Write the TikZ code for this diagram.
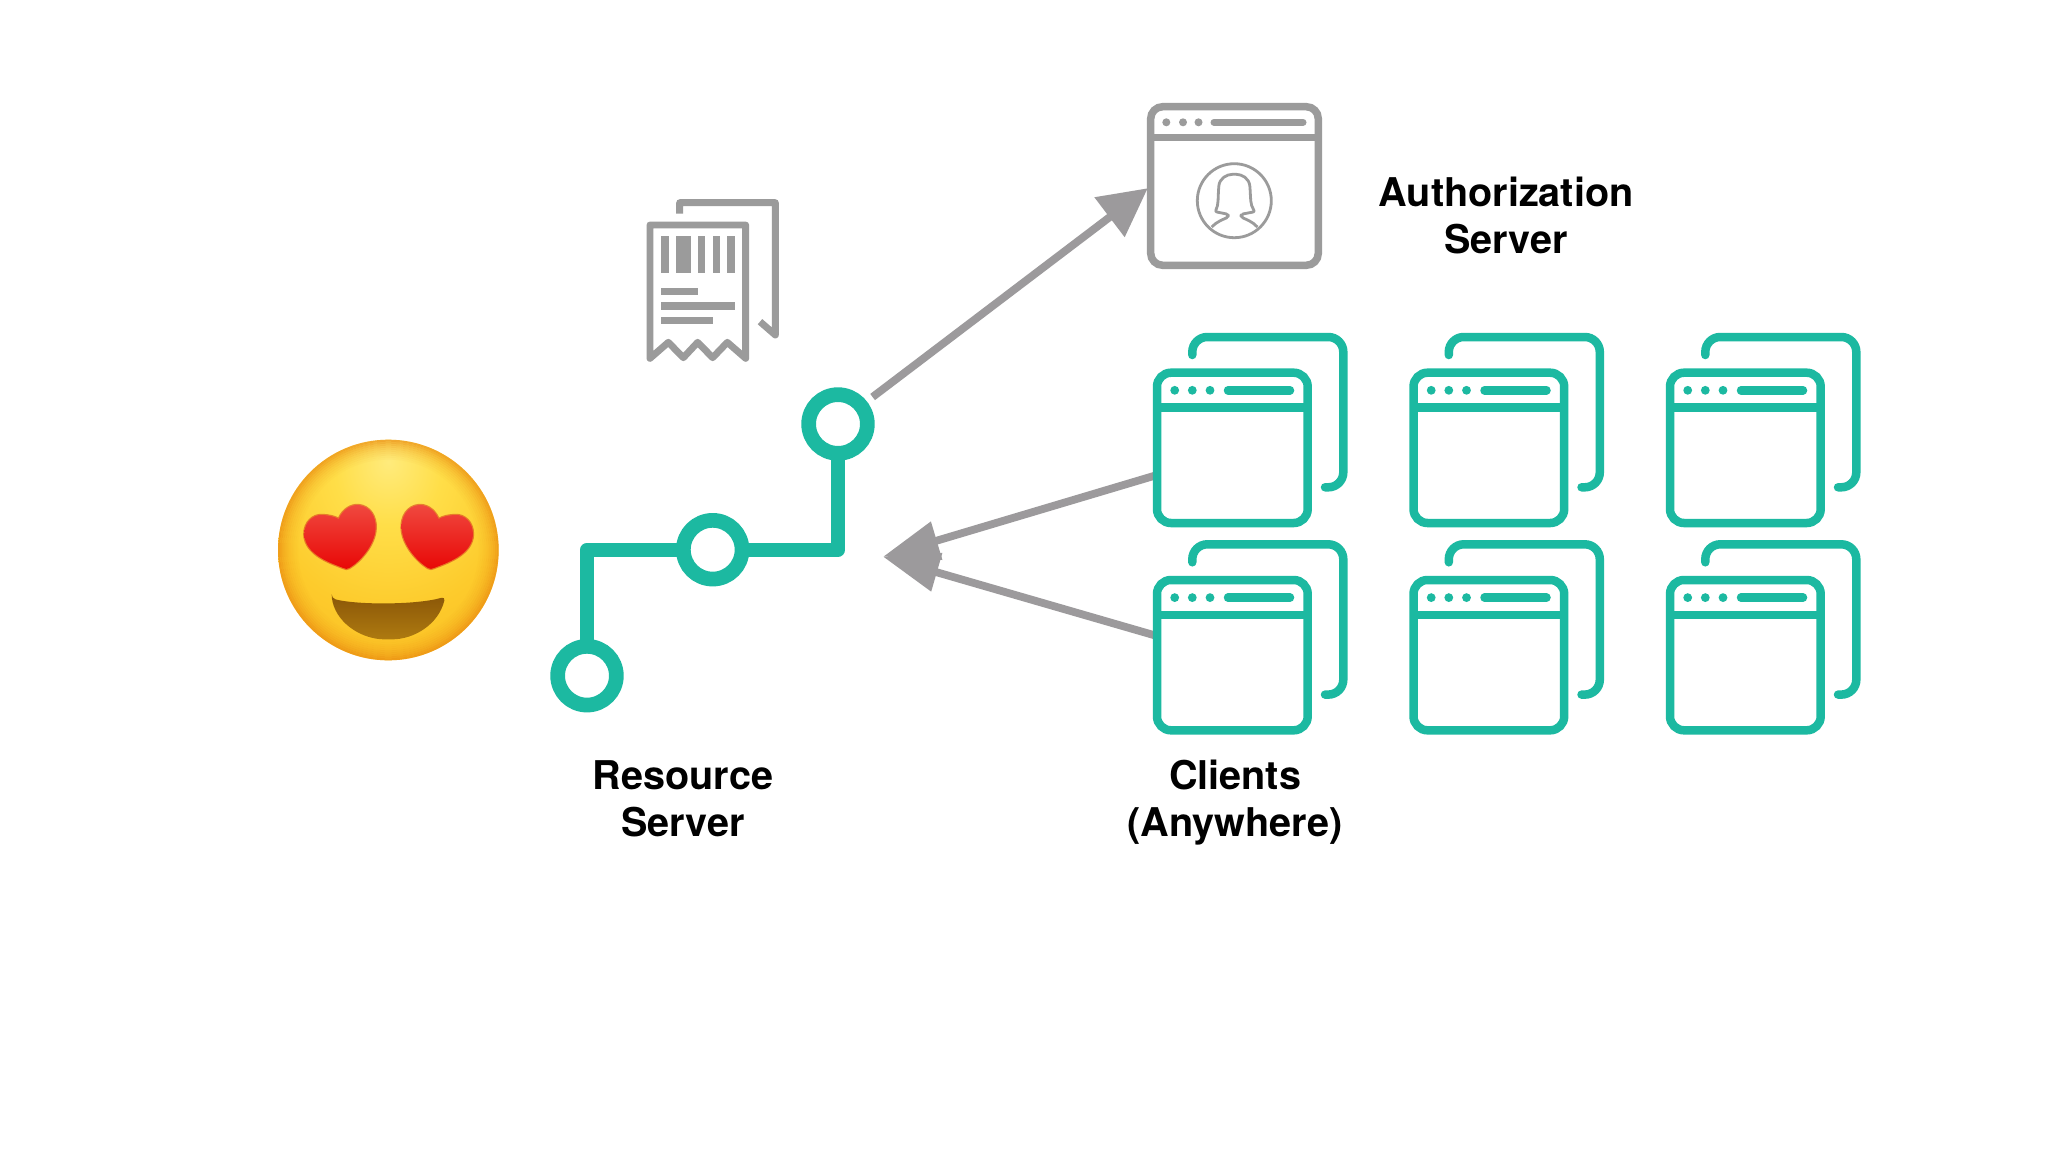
\documentclass[tikz,border=0pt]{standalone}
\usepackage{fontspec}
\setmainfont{TeX Gyre Heros}
\usetikzlibrary{arrows.meta,calc}
\definecolor{teal1}{HTML}{1CB9A1}
\definecolor{greyicon}{HTML}{9B9B9B}
\definecolor{greyarrow}{HTML}{9C9A9C}
\definecolor{faceA}{HTML}{FFEB7C}
\definecolor{faceB}{HTML}{FFDE48}
\definecolor{faceC}{HTML}{FDCB2C}
\definecolor{faceD}{HTML}{F9B71E}
\definecolor{faceE}{HTML}{F5A817}
\definecolor{rimc}{HTML}{E8830E}
\definecolor{heartT}{HTML}{F0483F}
\definecolor{heartM}{HTML}{EE1A12}
\definecolor{heartB}{HTML}{E80806}
\definecolor{heartE}{HTML}{D8401A}
\definecolor{mouthT}{HTML}{8C5808}
\definecolor{mouthB}{HTML}{AE7A10}
\pgfdeclareradialshading{facegrad}{\pgfpoint{0bp}{20bp}}{
 color(0bp)=(faceA); color(12bp)=(faceB); color(28bp)=(faceC); color(48bp)=(faceD); color(70bp)=(faceE); color(100bp)=(faceE)}
\tikzset{
  x=1pt,y=-1pt,
  winframe/.style={draw,rounded corners=#1,inner sep=0pt,outer sep=0pt},
  clientframe/.style={winframe=14pt,draw=teal1,line width=8.5pt,minimum width=150.7pt,minimum height=150.3pt},
  tealline/.style={draw=teal1,line width=8.5pt,line cap=round},
  authframe/.style={winframe=12pt,draw=greyicon,line width=7.5pt,minimum width=167.6pt,minimum height=158.6pt},
  greyline/.style={draw=greyicon,line width=6.9pt},
  arrowline/.style={draw=greyarrow,fill=greyarrow,line width=7.8pt},
  hopnode/.style={circle,draw=teal1,fill=white,line width=14.7pt,minimum size=58.7pt,inner sep=0pt,outer sep=0pt},
  hopline/.style={draw=teal1,line width=14pt,line join=round},
  labeltext/.style={font=\bfseries\fontsize{39.6}{47}\selectfont,align=center,text=black,inner sep=0pt}
}
\newcommand{\clientwin}[3]{%
  \draw[tealline,rounded corners=15pt] (#2+35.3,#3-17.7) -- (#2+35.3,#3-35.7) -- (#2+186.3,#3-35.7) -- (#2+186.3,#3+114.6) -- (#2+168,#3+114.6);
  \node[clientframe] (#1) at (#2+75.35,#3+75.15) {};
  \draw[teal1,line width=8.5pt] (#2,#3+35) -- (#2+150.7,#3+35);
  \foreach \dx in {17.7,35.3,53}{\fill[teal1] (#2+\dx,#3+17.6) circle (4.4pt);}
  \draw[tealline] (#2+71,#3+17.6) -- (#2+133,#3+17.6);
}
\newcommand{\heartpath}{(236,297) .. controls (250,265) and (275,254) .. (295,255)
      .. controls (330,258) and (349,290) .. (347,325)
      .. controls (345,375) and (300,425) .. (268,444)
      .. controls (262,448) and (256,447) .. (250,444)
      .. controls (215,430) and (135,405) .. (133,343)
      .. controls (133,305) and (160,284) .. (185,285)
      .. controls (205,285) and (225,290) .. (236,297) -- cycle}
\begin{document}
\begin{tikzpicture}
\useasboundingbox (0,0) rectangle (2048,1152);
\fill[white] (0,0) rectangle (2048,1152);
% named free ends of the connectors
\coordinate (upstart) at (872.6,397);
\coordinate (hub) at (883,556.7);
\coordinate (clientA) at (1157,475);
\coordinate (clientB) at (1157,636);
% connectors to the hub
\draw[arrowline,-{Triangle[length=56pt,width=38pt]}] (clientA) -- (hub);
\draw[arrowline,-{Triangle[length=56pt,width=38pt]}] (clientB) -- (hub);
% client windows
\clientwin{cA}{1157}{372.7}
\clientwin{cB}{1413.5}{372.7}
\clientwin{cC}{1670}{372.7}
\clientwin{cD}{1157}{580}
\clientwin{cE}{1413.5}{580}
\clientwin{cF}{1670}{580}
% authorization window
\node[authframe] (auth) at (1234.5,186) {};
\draw[greyicon,line width=7.5pt] (1150.7,137.3) -- (1318.3,137.3);
\foreach \x in {1166.3,1183,1198.5}{\fill[greyicon] (\x,122.3) circle (4pt);}
\draw[greyicon,line width=7pt,line cap=round] (1214,122.3) -- (1303,122.3);
\node[circle,draw=greyicon,line width=2.8pt,minimum size=74pt,inner sep=0pt] (avatar) at (1234.3,200.7) {};
\begin{scope}[shift={(1100,80)},scale=0.33333]
  \draw[greyicon,line width=2.8pt,line join=round,rounded corners=2pt]
    (335,441) .. controls (350,425) and (370,418) .. (385,411) -- (385,403) -- (345,395)
    .. controls (356,375) and (354,350) .. (356,325) .. controls (358,295) and (380,283) .. (403,283)
    .. controls (426,283) and (448,295) .. (450,325) .. controls (452,350) and (450,375) .. (465,395)
    -- (423,403) -- (423,411) .. controls (438,418) and (458,425) .. (472,441);
\end{scope}
\draw[arrowline,-{Triangle[length=48pt,width=48pt]},shorten >=3.7pt] (upstart) -- (auth.west);
% receipts
\begin{scope}[shift={(620,180)},scale=0.33333]
  \draw[greyline,line join=round] (179,101) -- (179,68) -- (466,68) -- (466,465) -- (420,425);
  \draw[greyline,line join=round] (90,535) -- (90,135) -- (377,135) -- (377,535) -- (322,487) -- (278,533) -- (233,487) -- (190,533) -- (145,487) -- cycle;
  \foreach \a/\b in {124/146,168/212,234/256,278/300,322/344}{\fill[greyicon] (\a,168) rectangle (\b,278);}
  \fill[greyicon] (124,323) rectangle (234,345);
  \fill[greyicon] (124,367) rectangle (344,389);
  \fill[greyicon] (124,411) rectangle (278,433);
\end{scope}
% resource server path
\coordinate (hopAc) at (587,675.7);
\coordinate (hopBc) at (712.7,549.7);
\coordinate (hopCc) at (838,424);
\draw[hopline] (hopAc) |- (hopBc) -| (hopCc);
\node[hopnode] (hopA) at (hopAc) {};
\node[hopnode] (hopB) at (hopBc) {};
\node[hopnode] (hopC) at (hopCc) {};
% emoji
\begin{scope}[shift={(260,420)},scale=0.33333]
  \shade[shading=facegrad] (385,390) circle (331);
  \foreach \r/\o in {328/.60,322/.50,316/.40,310/.32,304/.25,298/.19,292/.14,286/.10,280/.06,274/.03}{
    \draw[rimc,line width=2pt,opacity=\o] (385,390) circle (\r);}
  \foreach \m in {0,1}{
  \begin{scope}[shift={(\m*772,0)},xscale={1-2*\m}]
    \draw[heartE,line width=2.4pt,opacity=.6] \heartpath;
    \shade[top color=heartT,middle color=heartM,bottom color=heartB] \heartpath;
  \end{scope}}
  \shade[top color=mouthT,bottom color=mouthB,rounded corners=4pt]
    (215,535) .. controls (290,555) and (470,555) .. (556,530)
    .. controls (535,615) and (460,658) .. (385,658)
    .. controls (310,658) and (235,615) .. (215,535) -- cycle;
\end{scope}
% labels
\node[labeltext] (authlabel) at (1506,215) {Authorization\\Server};
\node[labeltext] (reslabel) at (683,798.7) {Resource\\Server};
\node[labeltext] (clilabel) at (1235,802.6) {Clients\\(Anywhere)};
\end{tikzpicture}
\end{document}
